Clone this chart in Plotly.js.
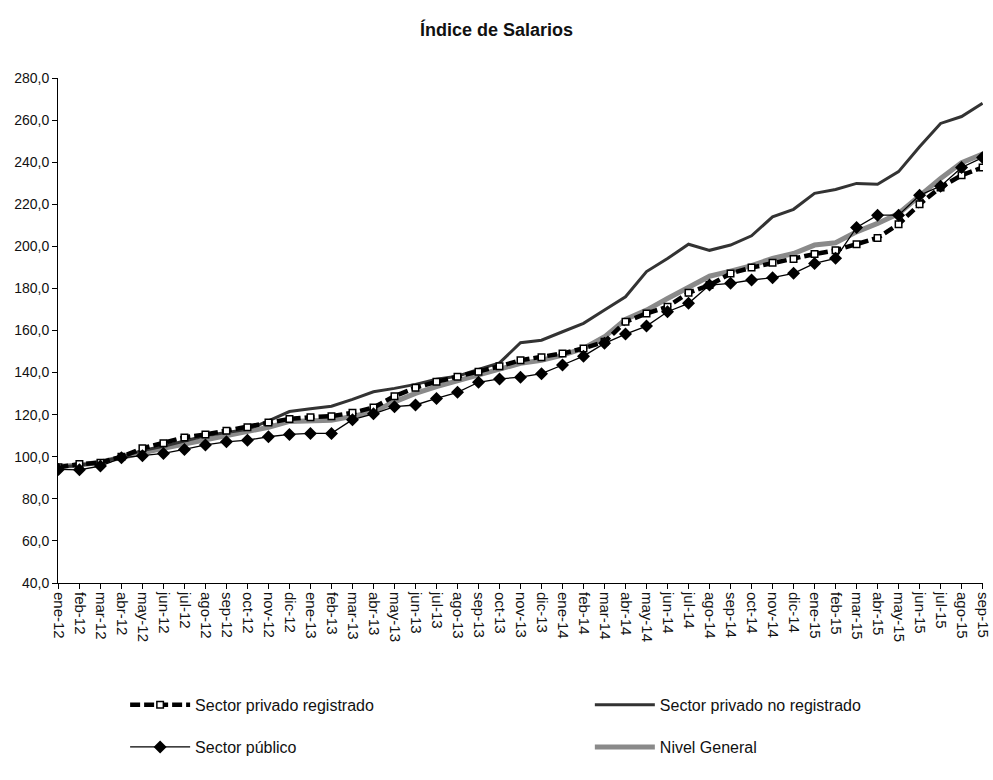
<!DOCTYPE html>
<html>
<head>
<meta charset="utf-8">
<script src="https://cdn.plot.ly/plotly-3.0.1.min.js"></script>
<style>html,body{margin:0;padding:0;background:#fff;}#chart{width:993px;height:780px;}</style>
</head>
<body>
<div id="chart"></div>
<script>
const months = ["ene-12","feb-12","mar-12","abr-12","may-12","jun-12","jul-12","ago-12","sep-12","oct-12","nov-12","dic-12",
"ene-13","feb-13","mar-13","abr-13","may-13","jun-13","jul-13","ago-13","sep-13","oct-13","nov-13","dic-13",
"ene-14","feb-14","mar-14","abr-14","may-14","jun-14","jul-14","ago-14","sep-14","oct-14","nov-14","dic-14",
"ene-15","feb-15","mar-15","abr-15","may-15","jun-15","jul-15","ago-15","sep-15"];

const privadoRegistrado = [95.0,96.5,97.2,100.0,104.0,106.4,109.2,110.6,112.4,114.0,116.3,118.0,
118.8,119.3,120.9,123.4,128.8,132.8,135.6,138.0,140.4,143.0,145.9,147.3,
149.1,151.5,154.6,164.1,168.1,171.3,177.9,181.6,187.1,189.9,192.2,194.0,
196.3,198.1,201.0,204.0,210.5,220.0,228.0,233.8,237.5];

const privadoNoRegistrado = [95.0,96.0,97.5,100.0,103.0,105.0,107.5,110.0,111.5,113.0,117.0,121.5,
122.8,124.0,127.3,130.9,132.5,134.4,136.8,138.3,141.5,144.6,154.2,155.4,
159.4,163.4,169.7,176.0,188.0,194.2,201.0,198.1,200.6,205.0,214.0,217.6,
225.2,227.0,229.9,229.5,235.5,247.3,258.4,261.7,268.0];

const sectorPublico = [94.0,93.8,95.6,99.5,100.5,101.6,103.5,105.6,107.1,107.9,109.5,110.6,
111.1,111.1,117.6,120.4,123.8,124.6,127.7,130.6,135.4,137.0,137.8,139.5,
143.6,147.8,153.9,158.3,162.1,168.9,172.9,181.6,182.4,184.0,185.1,187.2,
191.9,194.3,209.0,214.8,214.8,224.3,228.6,237.5,242.2];

const nivelGeneral = [95.5,96.0,97.5,99.8,102.0,104.0,106.0,108.0,110.0,111.5,114.0,116.8,
117.2,117.4,119.2,121.4,126.1,130.1,133.3,136.0,139.1,141.2,144.4,145.9,
148.3,151.5,157.0,165.3,169.7,175.2,180.8,185.8,188.2,190.8,194.3,196.6,
200.6,201.7,206.9,210.9,215.6,224.3,232.3,239.7,243.8];

const yTicks = [40,60,80,100,120,140,160,180,200,220,240,260,280];

const traces = [
  {x: months, y: nivelGeneral, name: "Nivel General", type: "scatter", mode: "lines",
   line: {color: "#8a8a8a", width: 5}, legend: "legend4"},
  {x: months, y: privadoNoRegistrado, name: "Sector privado no registrado", type: "scatter", mode: "lines",
   line: {color: "#333333", width: 3}, legend: "legend2"},
  {x: months, y: privadoRegistrado, name: "Sector privado registrado", type: "scatter", mode: "lines+markers",
   line: {color: "#000000", width: 4.5, dash: "10px,4px"},
   marker: {symbol: "square", size: 6.5, color: "#ffffff", line: {color: "#000000", width: 1.5}},
   legend: "legend"},
  {x: months, y: sectorPublico, name: "Sector público", type: "scatter", mode: "lines+markers",
   line: {color: "#000000", width: 1.3},
   marker: {symbol: "diamond", size: 10, color: "#000000"},
   legend: "legend3"}
];

const legendCommon = {
  orientation: "h", xref: "container", yref: "container", xanchor: "left", yanchor: "middle",
  font: {family: "Liberation Sans, Arial, sans-serif", size: 16, color: "#111"},
  bgcolor: "rgba(0,0,0,0)", itemwidth: 60
};

const layout = {
  width: 993, height: 780,
  margin: {l: 58, r: 10, t: 78, b: 197},
  paper_bgcolor: "#ffffff", plot_bgcolor: "#ffffff",
  separators: ",.",
  title: {text: "<b>Índice de Salarios</b>", x: 0.5, xanchor: "center", y: 0.962, yanchor: "middle",
          font: {family: "Liberation Sans, Arial, sans-serif", size: 18, color: "#111"}},
  font: {family: "Liberation Sans, Arial, sans-serif", color: "#111"},
  xaxis: {type: "category", tickangle: 90, showgrid: false, zeroline: false,
          showline: true, linecolor: "#000", linewidth: 1, ticks: "outside", ticklen: 5, tickcolor: "#000",
          tickfont: {size: 15, color: "#111"}, range: [-0.02, months.length - 1 + 0.02], fixedrange: true},
  yaxis: {range: [40, 280], tickvals: yTicks, tickformat: ".1f", showgrid: false, zeroline: false,
          showline: true, linecolor: "#000", linewidth: 1, ticks: "outside", ticklen: 5, tickcolor: "#000",
          tickfont: {size: 14, color: "#111"}, fixedrange: true},
  showlegend: true,
  legend: Object.assign({}, legendCommon, {x: 0.126, y: 0.0962}),
  legend2: Object.assign({}, legendCommon, {x: 0.594, y: 0.0962}),
  legend3: Object.assign({}, legendCommon, {x: 0.126, y: 0.0423}),
  legend4: Object.assign({}, legendCommon, {x: 0.594, y: 0.0423})
};

Plotly.newPlot("chart", traces, layout, {displayModeBar: false, staticPlot: true});
</script>
</body>
</html>
